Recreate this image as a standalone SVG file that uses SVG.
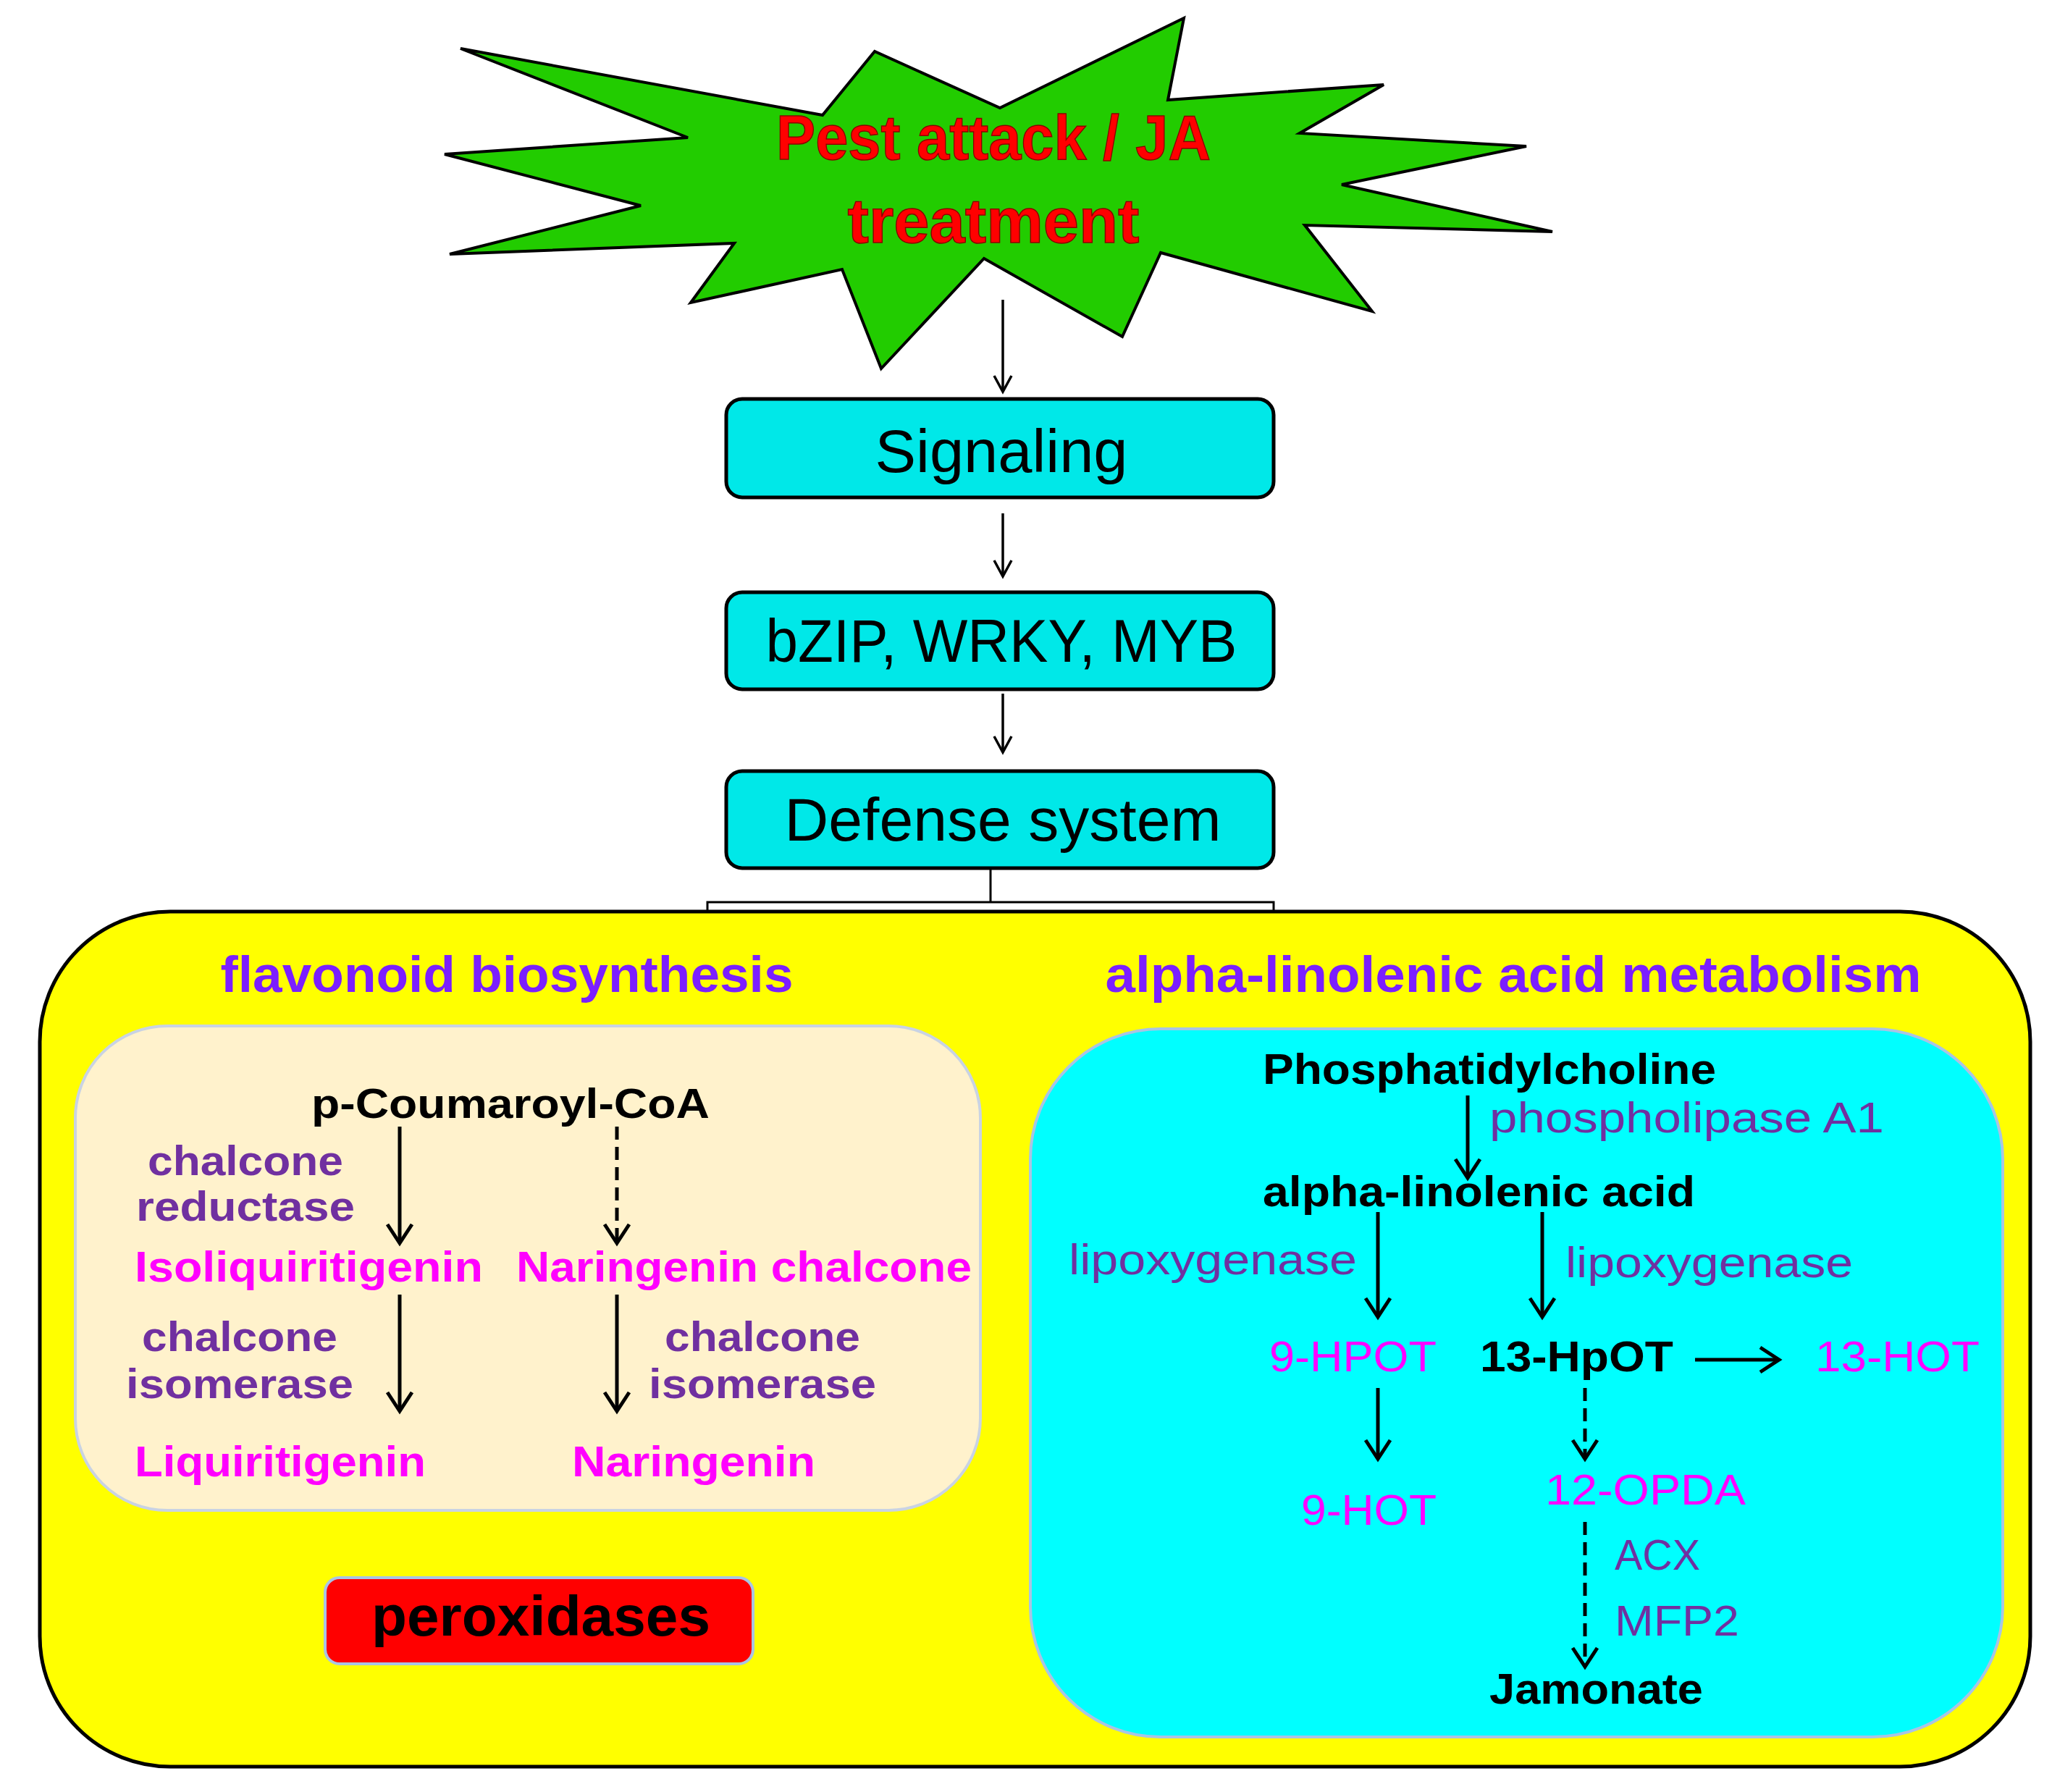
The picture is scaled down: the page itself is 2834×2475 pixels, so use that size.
<svg xmlns="http://www.w3.org/2000/svg" width="2834" height="2475" viewBox="0 0 2834 2475">
<defs>
<marker id="v" markerUnits="userSpaceOnUse" markerWidth="60" markerHeight="60" viewBox="-30 -30 60 60" refX="0" refY="0" orient="auto">
<path d="M-26,-17 L0,0 L-26,17" fill="none" stroke="#000" stroke-width="5"/>
</marker>
<marker id="vs" markerUnits="userSpaceOnUse" markerWidth="50" markerHeight="50" viewBox="-25 -25 50 50" refX="0" refY="0" orient="auto">
<path d="M-22,-12 L0,0 L-22,12" fill="none" stroke="#000" stroke-width="3.5"/>
</marker>
</defs>
<style>
.t{font-family:"Liberation Sans",Arial,sans-serif}
.b{font-weight:bold}
.box{fill:#00e8e8;stroke:#000;stroke-width:5}
.blk{fill:#000}
.pur{fill:#7030a0}
.mag{fill:#ff00ff}
.ttl{fill:#7b1fff}
.a{stroke:#000;stroke-width:5;fill:none;marker-end:url(#v)}
.as{stroke:#000;stroke-width:3.5;fill:none;marker-end:url(#vs)}
.d{stroke-dasharray:18 10}
</style>
<rect width="2834" height="2475" fill="#fff"/>
<g id="star">
<polygon points="636,67 1136,159 1208,71 1381,149 1635,25 1613,138 1911,117 1795,184 2108,202 1853,255 2144,320 1802,311 1895,430 1603,349 1550,465 1359,357 1217,509 1163,372 954,418 1014,336 621,351 885,284 614,213 950,190" fill="#22cc00" stroke="#000" stroke-width="4" stroke-linejoin="miter"/>
<text class="t b" x="1372" y="220" font-size="88" fill="#ff0000" stroke="#8b0000" stroke-width="1.5" text-anchor="middle" textLength="600" lengthAdjust="spacingAndGlyphs">Pest attack / JA</text>
<text class="t b" x="1372" y="335" font-size="88" fill="#ff0000" stroke="#8b0000" stroke-width="1.5" text-anchor="middle" textLength="403" lengthAdjust="spacingAndGlyphs">treatment</text>
</g>
<g id="signaling">
<rect class="box" x="1003" y="551" width="756" height="136" rx="22"/>
<text class="t blk" x="1383" y="652" font-size="84" text-anchor="middle" textLength="349" lengthAdjust="spacingAndGlyphs">Signaling</text>
</g>
<g id="tf">
<rect class="box" x="1003" y="818" width="756" height="134" rx="22"/>
<text class="t blk" x="1383" y="914" font-size="84" text-anchor="middle" textLength="651" lengthAdjust="spacingAndGlyphs">bZIP, WRKY, MYB</text>
</g>
<g id="defense">
<rect class="box" x="1003" y="1065" width="756" height="134" rx="22"/>
<text class="t blk" x="1385" y="1161" font-size="84" text-anchor="middle" textLength="603" lengthAdjust="spacingAndGlyphs">Defense system</text>
</g>
<g id="outer">
<rect x="977" y="1246" width="782" height="16" fill="#fff" stroke="#000" stroke-width="3"/>
<rect x="55" y="1259" width="2749" height="1181" rx="180" fill="#ffff00" stroke="#000" stroke-width="5"/>
<text class="t b ttl" x="700" y="1370" font-size="70" text-anchor="middle" textLength="791" lengthAdjust="spacingAndGlyphs">flavonoid biosynthesis</text>
<text class="t b ttl" x="2090" y="1370" font-size="70" text-anchor="middle" textLength="1127" lengthAdjust="spacingAndGlyphs">alpha-linolenic acid metabolism</text>
</g>
<g id="flavonoid">
<rect x="104" y="1417" width="1250" height="669" rx="127" fill="#fff2cc" stroke="#c9d3e3" stroke-width="4"/>
<text class="t b blk" x="705" y="1544" font-size="58" text-anchor="middle" textLength="550" lengthAdjust="spacingAndGlyphs">p-Coumaroyl-CoA</text>
<text class="t b pur" x="339" y="1623" font-size="58" text-anchor="middle" textLength="270" lengthAdjust="spacingAndGlyphs">chalcone</text>
<text class="t b pur" x="339" y="1686" font-size="58" text-anchor="middle" textLength="302" lengthAdjust="spacingAndGlyphs">reductase</text>
<text class="t b mag" x="186" y="1770" font-size="60" textLength="481" lengthAdjust="spacingAndGlyphs">Isoliquiritigenin</text>
<text class="t b mag" x="713" y="1770" font-size="60" textLength="629" lengthAdjust="spacingAndGlyphs">Naringenin chalcone</text>
<text class="t b pur" x="331" y="1866" font-size="58" text-anchor="middle" textLength="270" lengthAdjust="spacingAndGlyphs">chalcone</text>
<text class="t b pur" x="331" y="1931" font-size="58" text-anchor="middle" textLength="314" lengthAdjust="spacingAndGlyphs">isomerase</text>
<text class="t b pur" x="1053" y="1866" font-size="58" text-anchor="middle" textLength="270" lengthAdjust="spacingAndGlyphs">chalcone</text>
<text class="t b pur" x="1053" y="1931" font-size="58" text-anchor="middle" textLength="314" lengthAdjust="spacingAndGlyphs">isomerase</text>
<text class="t b mag" x="186" y="2039" font-size="60" textLength="402" lengthAdjust="spacingAndGlyphs">Liquiritigenin</text>
<text class="t b mag" x="790" y="2039" font-size="60" textLength="336" lengthAdjust="spacingAndGlyphs">Naringenin</text>
</g>
<g id="peroxidases">
<rect x="449" y="2179" width="591" height="119" rx="20" fill="#ff0000" stroke="#a9c4e4" stroke-width="4"/>
<text class="t b blk" x="747" y="2259" font-size="78" text-anchor="middle" textLength="468" lengthAdjust="spacingAndGlyphs">peroxidases</text>
</g>
<g id="ala">
<rect x="1423" y="1421" width="1343" height="978" rx="180" fill="#00ffff" stroke="#a9c4e4" stroke-width="4"/>
<text class="t b blk" x="1744" y="1497" font-size="60" textLength="626" lengthAdjust="spacingAndGlyphs">Phosphatidylcholine</text>
<text class="t pur" x="2057" y="1564" font-size="60" textLength="545" lengthAdjust="spacingAndGlyphs">phospholipase A1</text>
<text class="t b blk" x="1744" y="1666" font-size="60" textLength="597" lengthAdjust="spacingAndGlyphs">alpha-linolenic acid</text>
<text class="t pur" x="1476" y="1760" font-size="60" textLength="398" lengthAdjust="spacingAndGlyphs">lipoxygenase</text>
<text class="t pur" x="2162" y="1764" font-size="60" textLength="397" lengthAdjust="spacingAndGlyphs">lipoxygenase</text>
<text class="t mag" x="1753" y="1894" font-size="60" textLength="231" lengthAdjust="spacingAndGlyphs">9-HPOT</text>
<text class="t b blk" x="2044" y="1894" font-size="60" textLength="267" lengthAdjust="spacingAndGlyphs">13-HpOT</text>
<text class="t mag" x="2507" y="1894" font-size="60" textLength="227" lengthAdjust="spacingAndGlyphs">13-HOT</text>
<text class="t mag" x="1797" y="2106" font-size="60" textLength="187" lengthAdjust="spacingAndGlyphs">9-HOT</text>
<text class="t mag" x="2134" y="2078" font-size="60" textLength="277" lengthAdjust="spacingAndGlyphs">12-OPDA</text>
<text class="t pur" x="2230" y="2168" font-size="60" textLength="118" lengthAdjust="spacingAndGlyphs">ACX</text>
<text class="t pur" x="2230" y="2259" font-size="60" textLength="172" lengthAdjust="spacingAndGlyphs">MFP2</text>
<text class="t b blk" x="2057" y="2353" font-size="60" textLength="295" lengthAdjust="spacingAndGlyphs">Jamonate</text>
</g>
<g id="connectors">
<line class="as" x1="1385" y1="414" x2="1385" y2="541"/>
<line class="as" x1="1385" y1="709" x2="1385" y2="796"/>
<line class="as" x1="1385" y1="958" x2="1385" y2="1039"/>
<line x1="1368" y1="1199" x2="1368" y2="1246" stroke="#000" stroke-width="3"/>
<line class="a" x1="552" y1="1556" x2="552" y2="1717"/>
<line class="a d" x1="852" y1="1556" x2="852" y2="1717"/>
<line class="a" x1="552" y1="1788" x2="552" y2="1949"/>
<line class="a" x1="852" y1="1788" x2="852" y2="1949"/>
<line class="a" x1="2027" y1="1513" x2="2027" y2="1627"/>
<line class="a" x1="1903" y1="1674" x2="1903" y2="1819"/>
<line class="a" x1="2130" y1="1674" x2="2130" y2="1819"/>
<line class="a" x1="2341" y1="1878" x2="2457" y2="1878"/>
<line class="a" x1="1903" y1="1917" x2="1903" y2="2015"/>
<line class="a d" x1="2189" y1="1917" x2="2189" y2="2015"/>
<line class="a d" x1="2189" y1="2102" x2="2189" y2="2302"/>
</g>
</svg>
